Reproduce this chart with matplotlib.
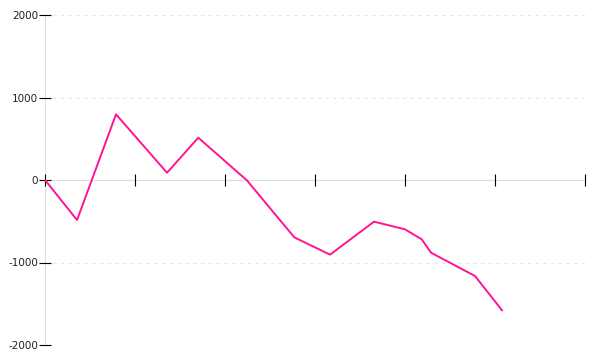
import matplotlib
matplotlib.use("Agg")
import matplotlib.pyplot as plt

# x in tick units (7 ticks, 0..6), y values
xs = [0, 0.356, 0.789, 1.356, 1.703, 2.244, 2.770, 3.167, 3.656, 4.0, 4.186, 4.289, 4.778, 5.078]
ys = [0, -485, 796, 88, 513, -5, -695, -905, -505, -598, -719, -881, -1164, -1579]
xticks = [0, 1, 2, 3, 4, 5, 6]
yticks = [-2000, -1000, 0, 1000, 2000]

fig = plt.figure(figsize=(6, 3.6), dpi=100)
ax = fig.add_axes([45 / 600, 15 / 360, 540 / 600, 330 / 360])

for yv in yticks:
    if yv != 0:
        ax.axhline(yv, color="#e6e6e6", lw=0.8, ls=(0, (3, 4)), zorder=0)

ax.plot(xs, ys, color="#ff1493", lw=1.4, zorder=2)

ax.set_xlim(0, 6)
ax.set_ylim(-2000, 2000)
ax.set_xticks(xticks)
ax.set_xticklabels([])
ax.set_yticks(yticks)
ax.set_yticklabels([str(v) for v in yticks], fontsize=7.5, color="#222222")

for s in ["top", "right"]:
    ax.spines[s].set_visible(False)
ax.spines["left"].set_color("#dddddd")
ax.spines["bottom"].set_color("#dddddd")
ax.spines["left"].set_zorder(1)
ax.spines["bottom"].set_zorder(1)
ax.spines["bottom"].set_position(("data", 0))
ax.tick_params(axis="x", direction="inout", length=9, width=0.8, color="black")
ax.tick_params(axis="y", direction="inout", length=8, width=0.8, color="black", pad=1)

fig.savefig("out.png", dpi=100)
